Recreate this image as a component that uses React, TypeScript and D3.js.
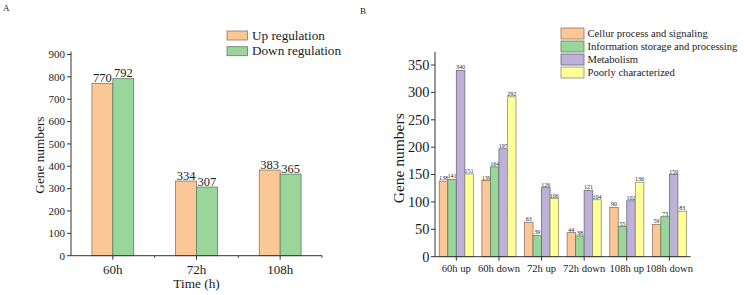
import React from "react";
import * as d3 from "d3";

const timeCats = ["60h", "72h", "108h"];
const upReg = [770, 334, 383];
const downReg = [792, 307, 365];
const seriesA = ["Up regulation", "Down regulation"];
const yTicksA = [0, 100, 200, 300, 400, 500, 600, 700, 800, 900];

const groupCats = ["60h up", "60h down", "72h up", "72h down", "108h up", "108h down"];
const seriesB = [
  "Cellur process and signaling",
  "Information storage and processing",
  "Metabolism",
  "Poorly characterized",
];
const cellur = [138, 139, 63, 44, 90, 59];
const info = [141, 164, 39, 38, 55, 73];
const metab = [340, 197, 126, 121, 102, 150];
const poorly = [151, 292, 106, 104, 136, 83];
const yTicksB = [0, 50, 100, 150, 200, 250, 300, 350];

const FILLS = ["#FCC796", "#9AD59B", "#BEB1D8", "#FFFF99"];
const STROKES = ["#8f7563", "#5f7f60", "#6f6780", "#8f8f6a"];
const FONT = "'Liberation Serif', 'Times New Roman', serif";
const TXT = "#1a1a1a";

function PanelA() {
  const left = 71, right = 322, top = 54.5, bottom = 255.7;
  const y = d3.scaleLinear().domain([0, 900]).range([bottom, top]);
  const x0 = d3.scaleBand<string>().domain(timeCats).range([left, right]).paddingInner(0.5).paddingOuter(0.25);
  const x1 = d3.scaleBand<string>().domain(seriesA).range([0, x0.bandwidth()]);
  const vals = [upReg, downReg];
  const step = (right - left) / timeCats.length;
  const minor = d3.range(1, timeCats.length + 1).map((k) => left + k * step);
  return (
    <g fontFamily={FONT} fill={TXT}>
      {timeCats.map((c, i) =>
        seriesA.map((s, j) => {
          const v = vals[j][i];
          const bx = (x0(c) as number) + (x1(s) as number);
          return (
            <g key={c + s}>
              <rect x={bx} y={y(v)} width={x1.bandwidth()} height={bottom - y(v)} fill={FILLS[j]} stroke={STROKES[j]} strokeWidth={0.8} />
              <text x={bx + x1.bandwidth() / 2} y={y(v) - 1.5} textAnchor="middle" fontSize={12.5}>{v}</text>
            </g>
          );
        })
      )}
      <line x1={left} x2={left} y1={top - 3} y2={bottom} stroke="#333" strokeWidth={1} />
      <line x1={left} x2={right} y1={bottom} y2={bottom} stroke="#333" strokeWidth={1} />
      {yTicksA.map((t) => (
        <g key={t}>
          <line x1={left - 4} x2={left} y1={y(t)} y2={y(t)} stroke="#333" />
          <text x={left - 6} y={y(t) + 3.8} textAnchor="end" fontSize={11}>{t}</text>
        </g>
      ))}
      {timeCats.map((c) => {
        const cx = (x0(c) as number) + x0.bandwidth() / 2;
        return (
          <g key={c}>
            <line x1={cx} x2={cx} y1={bottom} y2={bottom + 4} stroke="#333" />
            <text x={cx} y={274} textAnchor="middle" fontSize={13}>{c}</text>
          </g>
        );
      })}
      {minor.map((mx, i) => (
        <line key={i} x1={mx} x2={mx} y1={bottom} y2={bottom + 2} stroke="#333" />
      ))}
      <text x={(left + right) / 2} y={287.5} textAnchor="middle" fontSize={13.3}>Time (h)</text>
      <text transform={`translate(44,${(top + bottom) / 2}) rotate(-90)`} textAnchor="middle" fontSize={13.3}>Gene numbers</text>
      {seriesA.map((s, j) => (
        <g key={s}>
          <rect x={227} y={31 + j * 15.7} width={20.5} height={9} fill={FILLS[j]} stroke={STROKES[j]} strokeWidth={0.8} />
          <text x={252} y={39.5 + j * 15.7} fontSize={13.2}>{s}</text>
        </g>
      ))}
      <text x={3} y={11} fontSize={9}>A</text>
    </g>
  );
}

function PanelB() {
  const left = 435, right = 690.7, bottom = 256.7;
  const y = d3.scaleLinear().domain([0, 350]).range([bottom, 65]);
  const top = y(374);
  const x0 = d3.scaleBand<string>().domain(groupCats).range([left, right]).paddingInner(0.2).paddingOuter(0.1);
  const x1 = d3.scaleBand<string>().domain(seriesB).range([0, x0.bandwidth()]);
  const vals = [cellur, info, metab, poorly];
  return (
    <g fontFamily={FONT} fill={TXT}>
      {groupCats.map((c, i) =>
        seriesB.map((s, j) => {
          const v = vals[j][i];
          const bx = (x0(c) as number) + (x1(s) as number);
          return (
            <g key={c + s}>
              <rect x={bx} y={y(v)} width={x1.bandwidth()} height={bottom - y(v)} fill={FILLS[j]} stroke={STROKES[j]} strokeWidth={0.8} />
              <text x={bx + x1.bandwidth() / 2} y={y(v) - 1} textAnchor="middle" fontSize={6}>{v}</text>
            </g>
          );
        })
      )}
      <line x1={left} x2={left} y1={top} y2={bottom} stroke="#333" />
      <line x1={left} x2={right} y1={bottom} y2={bottom} stroke="#333" />
      {yTicksB.map((t) => (
        <g key={t}>
          <line x1={left - 4} x2={left} y1={y(t)} y2={y(t)} stroke="#333" />
          <text x={left - 5.5} y={y(t) + 4.8} textAnchor="end" fontSize={14.4}>{t}</text>
        </g>
      ))}
      {groupCats.map((c) => {
        const cx = (x0(c) as number) + x0.bandwidth() / 2;
        return (
          <g key={c}>
            <line x1={cx} x2={cx} y1={bottom} y2={bottom + 4} stroke="#333" />
            <text x={cx} y={272} textAnchor="middle" fontSize={10.6}>{c}</text>
          </g>
        );
      })}
      <text transform={`translate(404,${(top + bottom) / 2 + 4}) rotate(-90)`} textAnchor="middle" fontSize={15.5}>Gene numbers</text>
      {seriesB.map((s, j) => (
        <g key={s}>
          <rect x={561} y={28 + j * 13} width={23} height={11} fill={FILLS[j]} stroke={STROKES[j]} strokeWidth={0.8} />
          <text x={587.5} y={37 + j * 13} fontSize={10.6}>{s}</text>
        </g>
      ))}
      <text x={360} y={14} fontSize={9}>B</text>
    </g>
  );
}

export default function App() {
  return (
    <svg width={744} height={295} style={{ position: "absolute", left: 0, top: 0, background: "#fff" }}>
      <rect width={744} height={295} fill="#fff" />
      <PanelA />
      <PanelB />
    </svg>
  );
}
